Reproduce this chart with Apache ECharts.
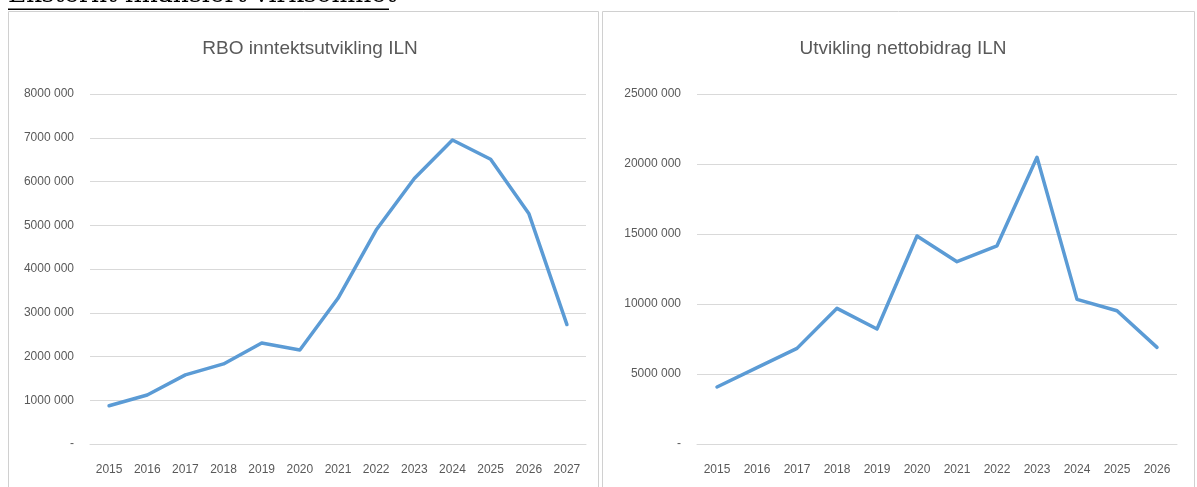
<!DOCTYPE html>
<html>
<head>
<meta charset="utf-8">
<script src="https://cdn.jsdelivr.net/npm/echarts@6/dist/echarts.min.js"></script>
<style>
  html, body { margin: 0; padding: 0; background: #fff; }
  #chart { width: 1197px; height: 487px; }
</style>
</head>
<body>
<div id="chart"></div>
<script>
var headerText = 'Eksternt finansiert virksomhet';

var rboTitle = 'RBO inntektsutvikling ILN';
var rboYears = ['2015','2016','2017','2018','2019','2020','2021','2022','2023','2024','2025','2026','2027'];
var rboValues = [875000, 1120000, 1580000, 1830000, 2310000, 2150000, 3330000, 4890000, 6070000, 6950000, 6510000, 5270000, 2730000];

var nettoTitle = 'Utvikling nettobidrag ILN';
var nettoYears = ['2015','2016','2017','2018','2019','2020','2021','2022','2023','2024','2025','2026'];
var nettoValues = [4070000, 5450000, 6830000, 9690000, 8210000, 14860000, 13020000, 14160000, 20480000, 10330000, 9520000, 6900000];

var txt = '#595959';
var gridCol = '#d9d9d9';
var blue = '#5b9bd5';
var labelFont = '"Liberation Sans Narrow", "Liberation Sans", sans-serif';

// excel style: "8000 000", zero shown as "-"
function fmt(v) {
    if (v === 0) return '-';
    return (v / 1000) + ' 000';
}

function xAxisFor(idx, cats) {
    return {
        type: 'category',
        gridIndex: idx,
        data: cats,
        boundaryGap: true,
        axisLine: {lineStyle: {color: gridCol}},
        axisTick: {show: false},
        axisLabel: {color: txt, fontSize: 12, fontFamily: labelFont, margin: 20, interval: 0}
    };
}

function yAxisFor(idx, max, step) {
    return {
        type: 'value',
        gridIndex: idx,
        min: 0,
        max: max,
        interval: step,
        axisLine: {show: false},
        axisTick: {show: false},
        splitLine: {lineStyle: {color: gridCol, width: 1}},
        axisLabel: {color: txt, fontSize: 12, fontFamily: labelFont, margin: 16, formatter: fmt}
    };
}

function lineFor(idx, vals) {
    return {
        type: 'line',
        xAxisIndex: idx,
        yAxisIndex: idx,
        data: vals,
        showSymbol: false,
        symbol: 'none',
        lineStyle: {color: blue, width: 3.5, cap: 'round', join: 'round'},
        animation: false
    };
}

var option = {
    backgroundColor: '#fff',
    animation: false,
    title: [
        {text: rboTitle, left: 305, top: 34, textAlign: 'center',
         textStyle: {color: txt, fontSize: 19, fontWeight: 'normal', fontFamily: labelFont}},
        {text: nettoTitle, left: 898, top: 34, textAlign: 'center',
         textStyle: {color: txt, fontSize: 19, fontWeight: 'normal', fontFamily: labelFont}}
    ],
    grid: [
        {left: 90, top: 94, width: 496, height: 350},
        {left: 697, top: 94, width: 480, height: 350}
    ],
    xAxis: [xAxisFor(0, rboYears), xAxisFor(1, nettoYears)],
    yAxis: [yAxisFor(0, 8000000, 1000000), yAxisFor(1, 25000000, 5000000)],
    series: [lineFor(0, rboValues), lineFor(1, nettoValues)],
    graphic: [
        {type: 'rect', shape: {x: 8.5, y: 11.5, width: 590, height: 500},
         style: {fill: null, stroke: '#d0d0d0', lineWidth: 1}, silent: true},
        {type: 'rect', shape: {x: 602.5, y: 11.5, width: 592, height: 500},
         style: {fill: null, stroke: '#d0d0d0', lineWidth: 1}, silent: true},
        {type: 'text', left: 8, top: -17,
         style: {text: headerText, fill: '#000', font: '25px "DejaVu Serif", serif'}},
        {type: 'rect', shape: {x: 8, y: 8.5, width: 381, height: 1.5},
         style: {fill: '#000'}, silent: true}
    ]
};

var myChart = echarts.init(document.getElementById('chart'), null, {renderer: 'canvas'});
myChart.setOption(option);
</script>
</body>
</html>
